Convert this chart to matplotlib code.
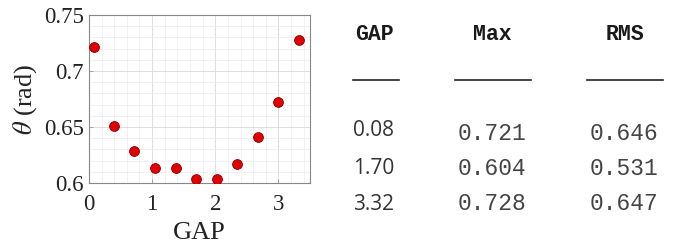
import matplotlib.pyplot as plt
from matplotlib.lines import Line2D
from matplotlib.ticker import MultipleLocator

# scatter data
gap = [0.08, 0.40, 0.72, 1.04, 1.37, 1.70, 2.02, 2.34, 2.67, 2.99, 3.32]
theta = [0.721, 0.651, 0.629, 0.613, 0.613, 0.604, 0.604, 0.617, 0.641, 0.672, 0.728]

# table data
table_headers = ['GAP', 'Max', 'RMS']
table_gap = ['0.08', '1.70', '3.32']
table_max = ['0.721', '0.604', '0.728']
table_rms = ['0.646', '0.531', '0.647']

plt.rcParams['mathtext.fontset'] = 'stix'

fig = plt.figure(figsize=(6.74, 2.48), dpi=100)
ax = fig.add_axes([0.132, 0.262, 0.328, 0.678])

ax.scatter(gap, theta, s=50, c='#e00000', edgecolors='#8a0000', linewidths=0.6, zorder=3)
ax.set_xlim(0, 3.5)
ax.set_ylim(0.6, 0.75)
ax.xaxis.set_major_locator(MultipleLocator(1))
ax.xaxis.set_minor_locator(MultipleLocator(0.2))
ax.yaxis.set_minor_locator(MultipleLocator(0.01))
ax.set_yticks([0.6, 0.65, 0.7, 0.75])
ax.set_yticklabels(['0.6', '0.65', '0.7', '0.75'])
ax.grid(True, which='major', color='#d8d8d8', linewidth=0.6)
ax.grid(True, which='minor', color='#ececec', linewidth=0.5)
ax.set_axisbelow(True)
ax.tick_params(which='major', direction='in', length=3, width=0.5, colors='#888888',
               labelcolor='#222222', labelsize=16.5)
ax.tick_params(axis='x', which='major', pad=8)
ax.tick_params(which='minor', length=0)
for tl in ax.get_xticklabels() + ax.get_yticklabels():
    tl.set_fontfamily('Liberation Serif')
for sp in ax.spines.values():
    sp.set_color('#888888')
    sp.set_linewidth(0.8)
ax.set_xlabel('GAP', fontfamily='Liberation Serif', fontsize=19, color='#222222', labelpad=5)
ax.set_ylabel(r'$\mathit{\theta}$ (rad)', fontfamily='Liberation Serif', fontsize=19,
              color='#222222', labelpad=4)

# table on the right
W, H = 674.0, 248.0
col_x = [374, 492, 625]
line_spans = [(353, 399), (455, 531), (587, 663)]
for x, h in zip(col_x, table_headers):
    fig.text(x / W, 1 - 35 / H, h, ha='center', va='center', fontfamily='Liberation Mono',
             fontweight='bold', fontsize=15.5, color='#1a1a1a')
for x0, x1 in line_spans:
    fig.add_artist(Line2D([x0 / W, x1 / W], [1 - 80 / H, 1 - 80 / H], color='#222222', linewidth=1.2))

row_y = [130, 168, 205]
val_y = [133, 168.5, 203]
for i in range(3):
    fig.text(374 / W, 1 - row_y[i] / H, table_gap[i], ha='center', va='center',
             fontfamily='Open Sans', fontsize=15, color='#333333')
    fig.text(492 / W, 1 - val_y[i] / H, table_max[i], ha='center', va='center',
             fontfamily='Liberation Mono', fontsize=16.5, color='#444444')
    fig.text(624 / W, 1 - val_y[i] / H, table_rms[i], ha='center', va='center',
             fontfamily='Liberation Mono', fontsize=16.5, color='#444444')

fig.savefig('out.png', dpi=100)
